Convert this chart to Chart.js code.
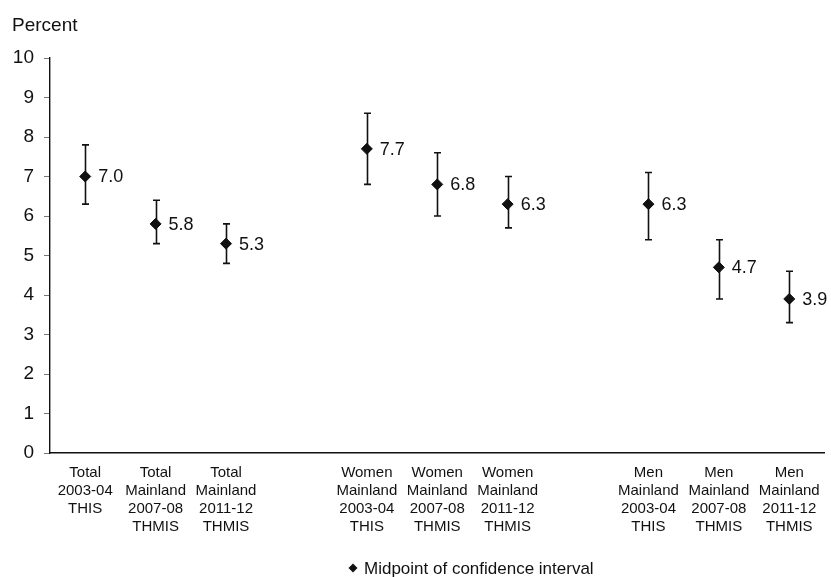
<!DOCTYPE html>
<html>
<head>
<meta charset="utf-8">
<title>Confidence intervals</title>
<script src="https://cdn.jsdelivr.net/npm/chart.js@4.4.1/dist/chart.umd.min.js"></script>
<style>
  html, body { margin: 0; padding: 0; background: #fff; }
  #wrap { width: 831px; height: 577px; }
</style>
</head>
<body>
<div id="wrap"><canvas id="ciChart" width="831" height="577"></canvas></div>
<script>
// empty strings are spacer columns between the three groups
const categories = [
  ["Total", "2003-04", "THIS"],
  ["Total", "Mainland", "2007-08", "THMIS"],
  ["Total", "Mainland", "2011-12", "THMIS"],
  "",
  ["Women", "Mainland", "2003-04", "THIS"],
  ["Women", "Mainland", "2007-08", "THMIS"],
  ["Women", "Mainland", "2011-12", "THMIS"],
  "",
  ["Men", "Mainland", "2003-04", "THIS"],
  ["Men", "Mainland", "2007-08", "THMIS"],
  ["Men", "Mainland", "2011-12", "THMIS"]
];
const midpoints   = [7.0, 5.8, 5.3, null, 7.7, 6.8, 6.3, null, 6.3, 4.7, 3.9];
const lowerBounds = [6.3, 5.3, 4.8, null, 6.8, 6.0, 5.7, null, 5.4, 3.9, 3.3];
const upperBounds = [7.8, 6.4, 5.8, null, 8.6, 7.6, 7.0, null, 7.1, 5.4, 4.6];
const yTicks = [0, 1, 2, 3, 4, 5, 6, 7, 8, 9, 10];

const FONT = "'Liberation Sans', Arial, Helvetica, sans-serif";
const INK = "#111";

const errorBars = {
  id: "errorBars",
  beforeDatasetsDraw(chart) {
    const { ctx, scales: { x, y } } = chart;
    ctx.save();
    ctx.strokeStyle = INK;
    ctx.lineWidth = 1.6;
    midpoints.forEach((m, i) => {
      if (m === null) return;
      const px = Math.round(x.getPixelForValue(i)) + 0.5;
      const top = y.getPixelForValue(upperBounds[i]);
      const bot = y.getPixelForValue(lowerBounds[i]);
      ctx.beginPath();
      ctx.moveTo(px, top);
      ctx.lineTo(px, bot);
      ctx.moveTo(px - 3.5, top);
      ctx.lineTo(px + 3.5, top);
      ctx.moveTo(px - 3.5, bot);
      ctx.lineTo(px + 3.5, bot);
      ctx.stroke();
    });
    ctx.restore();
  },
  afterDatasetsDraw(chart) {
    const { ctx } = chart;
    const meta = chart.getDatasetMeta(0);
    ctx.save();
    ctx.fillStyle = INK;
    ctx.font = "18px " + FONT;
    ctx.textBaseline = "middle";
    ctx.textAlign = "left";
    meta.data.forEach((pt, i) => {
      if (midpoints[i] === null) return;
      ctx.fillText(midpoints[i].toFixed(1), pt.x + 13, pt.y + 1);
    });
    ctx.restore();
  }
};

// axis caption and the single-entry key
const extras = {
  id: "extras",
  afterDraw(chart) {
    const { ctx } = chart;
    ctx.save();
    ctx.fillStyle = INK;
    ctx.font = "19px " + FONT;
    ctx.textBaseline = "alphabetic";
    ctx.fillText("Percent", 12, 31);

    const kx = 353, ky = 568, r = 4.5;
    ctx.beginPath();
    ctx.moveTo(kx - r, ky);
    ctx.lineTo(kx, ky - r);
    ctx.lineTo(kx + r, ky);
    ctx.lineTo(kx, ky + r);
    ctx.closePath();
    ctx.fill();
    ctx.font = "17px " + FONT;
    ctx.textBaseline = "middle";
    ctx.fillText(chart.data.datasets[0].label, 364, ky + 1);
    ctx.restore();
  }
};

new Chart(document.getElementById("ciChart"), {
  type: "line",
  data: {
    labels: categories,
    datasets: [{
      label: "Midpoint of confidence interval",
      data: midpoints,
      showLine: false,
      pointStyle: "rectRot",
      pointRadius: 5.5,
      pointHoverRadius: 5.5,
      pointBackgroundColor: INK,
      pointBorderColor: INK,
      pointBorderWidth: 1
    }]
  },
  options: {
    responsive: false,
    animation: false,
    events: [],
    layout: { padding: { top: 58, right: 4, bottom: 0, left: 0 } },
    plugins: {
      legend: { display: false },
      tooltip: { enabled: false }
    },
    scales: {
      x: {
        offset: true,
        grid: { drawOnChartArea: false, drawTicks: false, color: "transparent" },
        border: { display: true, color: INK, width: 1.4 },
        ticks: {
          color: INK,
          font: { family: FONT, size: 15, lineHeight: 1.19 },
          padding: 11,
          maxRotation: 0,
          autoSkip: false
        },
        afterFit(scale) { scale.height = 124; }
      },
      y: {
        min: 0,
        max: 10,
        afterBuildTicks(scale) { scale.ticks = yTicks.map(v => ({ value: v })); },
        grid: { drawOnChartArea: false, drawTicks: true, tickLength: 6, color: "#777" },
        border: { display: true, color: INK, width: 1.4 },
        ticks: {
          color: INK,
          font: { family: FONT, size: 19 },
          padding: 10
        },
        afterFit(scale) { scale.width = 50; }
      }
    }
  },
  plugins: [errorBars, extras]
});
</script>
</body>
</html>
